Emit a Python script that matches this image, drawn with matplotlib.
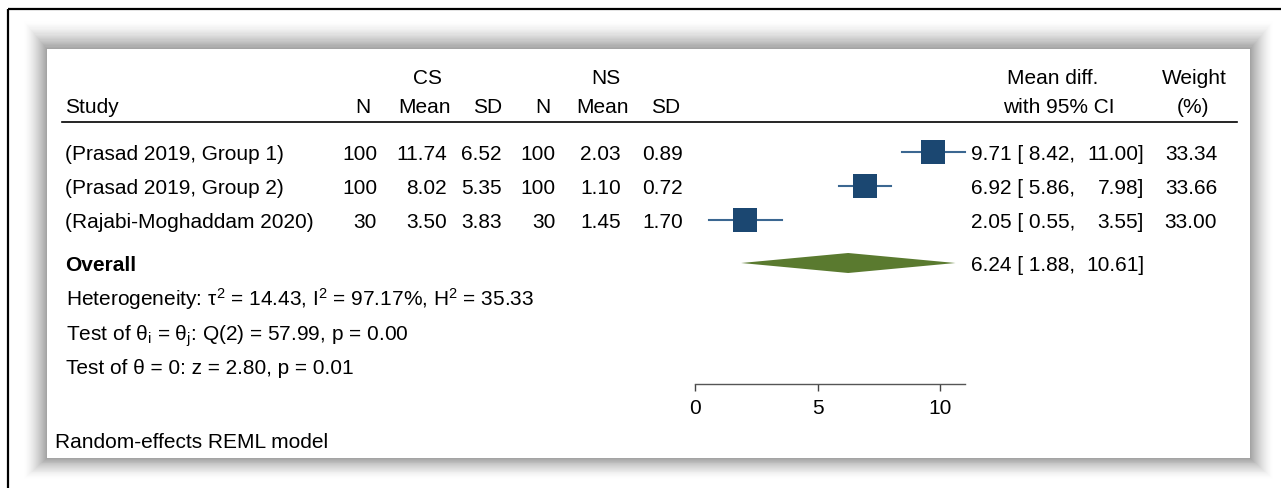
import numpy as np
import matplotlib.pyplot as plt
from matplotlib.patches import Rectangle, Polygon

plt.rcParams['font.family'] = ['Liberation Sans', 'DejaVu Sans']
plt.rcParams['mathtext.fontset'] = 'custom'
plt.rcParams['mathtext.rm'] = 'Liberation Sans'
plt.rcParams['mathtext.it'] = 'Liberation Sans:italic'

studies = ["(Prasad 2019, Group 1)", "(Prasad 2019, Group 2)", "(Rajabi-Moghaddam 2020)"]
cs_n = [100, 100, 30]
cs_mean = [11.74, 8.02, 3.50]
cs_sd = [6.52, 5.35, 3.83]
ns_n = [100, 100, 30]
ns_mean = [2.03, 1.10, 1.45]
ns_sd = [0.89, 0.72, 1.70]
md = [9.71, 6.92, 2.05]
ci_lo = [8.42, 5.86, 0.55]
ci_hi = [11.00, 7.98, 3.55]
weight = [33.34, 33.66, 33.00]

ov_est, ov_lo, ov_hi = 6.24, 1.88, 10.61
tau2, i2, h2 = 14.43, 97.17, 35.33
q_stat, q_df, q_p = 57.99, 2, 0.00
z_stat, z_p = 2.80, 0.01
xticks = [0, 5, 10]

W, H = 1287, 489
fs = 15
off = 0.358 * fs * 100 / 72   # half cap height in px, baseline below visual centre
fig = plt.figure(figsize=(W / 100, H / 100), dpi=100)

# background layer in pixel units
bg = fig.add_axes([0, 0, 1, 1])
bg.set_xlim(0, W)
bg.set_ylim(H, 0)
bg.axis('off')


def txt(x, y, s, ha='left', **kw):
    bg.text(x, y + off, s, ha=ha, va='baseline', fontsize=fs, **kw)


# outer frame (cropped screenshot)
bg.plot([8, 8], [10, H], color='black', lw=1.6, solid_capstyle='butt')
bg.plot([8, 1281], [10, 10], color='black', lw=1.6, solid_capstyle='butt')

# soft shadow around the panel
px0, py0, px1, py1 = 47, 50, 1250, 459
n = 24
for d in range(n, 0, -1):
    t = 1 - d / n
    g = 1 - 0.38 * t ** 1.5
    bg.add_patch(Rectangle((px0 - d, py0 - d * 1.2), px1 - px0 + 2 * d,
                           py1 - py0 + d * 2.1, facecolor=(g, g, g), edgecolor='none'))
bg.add_patch(Rectangle((px0, py0), px1 - px0, py1 - py0, facecolor='white', edgecolor='none'))

# header
hy1, hy2 = 77, 106
txt(428, hy1, "CS", ha='center')
txt(606, hy1, "NS", ha='center')
txt(1053, hy1, "Mean diff.", ha='center')
txt(1194, hy1, "Weight", ha='center')
txt(65, hy2, "Study")
for x, s in zip([363, 424, 488, 543, 603, 666], ["N", "Mean", "SD", "N", "Mean", "SD"]):
    txt(x, hy2, s, ha='center')
txt(1059, hy2, "with 95% CI", ha='center')
txt(1193, hy2, "(%)", ha='center')
bg.plot([62, 1237], [122.5, 122.5], color='black', lw=1.2)

# study rows
row_y = [153, 187, 221]
col_r = [377, 447, 502, 556, 621, 683]
for i, y in enumerate(row_y):
    txt(65, y, studies[i])
    vals = [f"{cs_n[i]}", f"{cs_mean[i]:.2f}", f"{cs_sd[i]:.2f}",
            f"{ns_n[i]}", f"{ns_mean[i]:.2f}", f"{ns_sd[i]:.2f}"]
    for x, s in zip(col_r, vals):
        txt(x, y, s, ha='right')
    txt(971, y, f"{md[i]:.2f} [{ci_lo[i]:5.2f},")
    txt(1144, y, f"{ci_hi[i]:.2f}]", ha='right')
    txt(1217, y, f"{weight[i]:.2f}", ha='right')

oy = 264
txt(65, oy, "Overall", fontweight='bold')
txt(971, oy, f"{ov_est:.2f} [{ov_lo:5.2f},")
txt(1144, oy, f"{ov_hi:.2f}]", ha='right')

txt(66, 298, f"Heterogeneity: τ$^2$ = {tau2:.2f}, I$^2$ = {i2:.2f}%, H$^2$ = {h2:.2f}")
txt(66, 333, f"Test of θ$_\\mathrm{{i}}$ = θ$_\\mathrm{{j}}$: Q({q_df}) = {q_stat:.2f}, p = {q_p:.2f}")
txt(66, 367, f"Test of θ = 0: z = {z_stat:.2f}, p = {z_p:.2f}")
txt(55, 441, "Random-effects REML model")

# forest axes: x in effect units, y in pixel rows
ax = fig.add_axes([695 / W, (H - 385) / H, 270 / W, 250 / H])
ax.set_facecolor('none')
ax.set_xlim(0, 11)
ax.set_ylim(385, 135)
for s in ['top', 'left', 'right']:
    ax.spines[s].set_visible(False)
ax.spines['bottom'].set_color('#555555')
ax.spines['bottom'].set_linewidth(1.0)
ax.set_yticks([])
ax.set_xticks(xticks)
ax.tick_params(axis='x', direction='out', length=5, width=1.0, color='#444444',
               labelsize=fs, pad=5)

wmax = max(weight)
for i, y in enumerate(row_y):
    ax.plot([ci_lo[i], ci_hi[i]], [y, y], color='#3b6791', lw=1.5, clip_on=False, zorder=2)
    ax.plot(md[i], y, marker='s', markersize=17.2 * np.sqrt(weight[i] / wmax),
            color='#1b4771', markeredgewidth=0, clip_on=False, zorder=3)

dh = 10
ax.add_patch(Polygon([(ov_lo, oy), (ov_est, oy - dh), (ov_hi, oy), (ov_est, oy + dh)],
                     closed=True, facecolor='#5a7a2f', edgecolor='none', clip_on=False))

fig.savefig('out.png', dpi=100)
